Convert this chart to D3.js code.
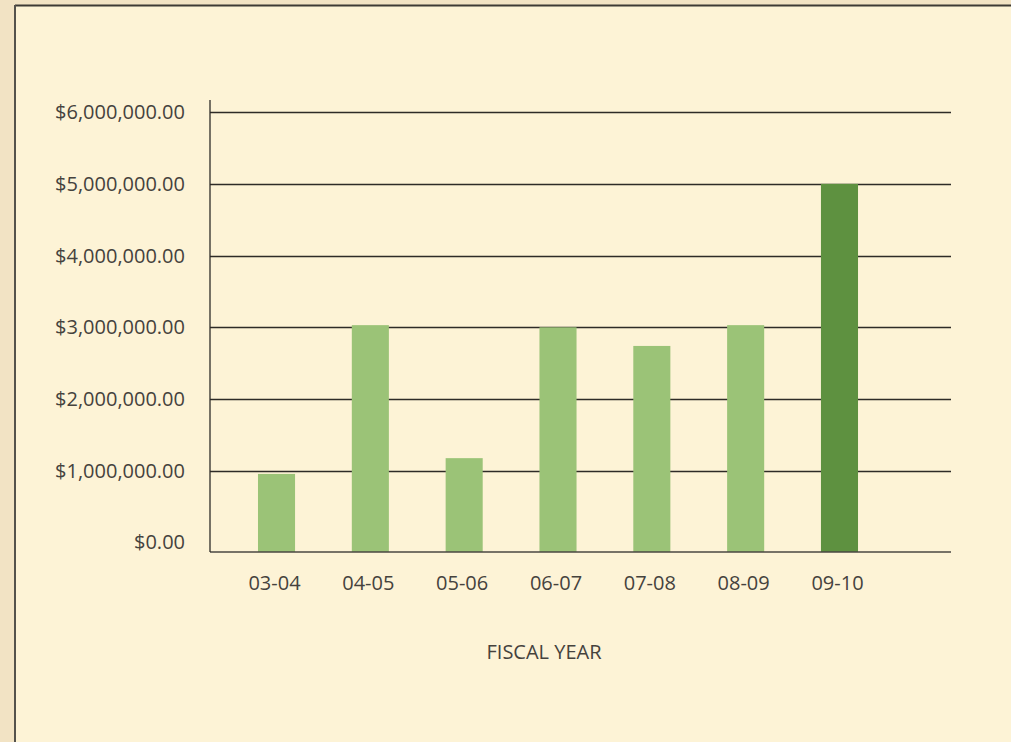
<!DOCTYPE html>
<html><head><meta charset="utf-8">
<script src="https://cdn.jsdelivr.net/npm/d3@7"></script>
<style>
html,body{margin:0;padding:0;background:#F2E3C4;}
svg{display:block;}
</style></head>
<body>
<svg id="c" width="1011" height="742"></svg>
<script>
const categories = ["03-04","04-05","05-06","06-07","07-08","08-09","09-10"];
const values = [955000, 3030000, 1175000, 3000000, 2740000, 3030000, 5000000];
const highlight = [false,false,false,false,false,false,true];
const yTicks = [0,1000000,2000000,3000000,4000000,5000000,6000000];
const xTitle = "FISCAL YEAR";

const svg = d3.select("#c");
const font = "'Open Sans', 'Liberation Sans', Arial, sans-serif";
svg.append("rect").attr("x",0).attr("y",0).attr("width",1011).attr("height",742).attr("fill","#F2E3C4");
svg.append("rect").attr("x",15).attr("y",6).attr("width",996).attr("height",736).attr("fill","#FDF3D6");
svg.append("line").attr("x1",15).attr("x2",1011).attr("y1",5.5).attr("y2",5.5).attr("stroke","#3d3a35").attr("stroke-width",2);
svg.append("line").attr("x1",15).attr("x2",15).attr("y1",5).attr("y2",742).attr("stroke","#55524c").attr("stroke-width",2);

const y = d3.scaleLinear().domain([0,6000000]).range([542.4,112.2]);
const x = d3.scaleBand().domain(categories).range([229.6,886.4]).paddingInner(0.605).paddingOuter(0.3025);
const plotL = 210, plotR = 951, baseY = 552;

// gridlines
svg.append("g").selectAll("line").data(yTicks.filter(d=>d>0)).join("line")
  .attr("x1",plotL).attr("x2",plotR)
  .attr("y1",d=>Math.round(y(d))+0.5).attr("y2",d=>Math.round(y(d))+0.5)
  .attr("stroke","#2e2b27").attr("stroke-width",1.3);

// bars
svg.append("g").selectAll("rect").data(categories).join("rect")
  .attr("x",(d)=>x(d))
  .attr("width",x.bandwidth())
  .attr("y",(d,i)=>y(values[i]))
  .attr("height",(d,i)=>baseY - y(values[i]))
  .attr("fill",(d,i)=>highlight[i] ? "#5E9140" : "#9BC377");

// axes lines
svg.append("line").attr("x1",plotL).attr("x2",plotR).attr("y1",baseY).attr("y2",baseY).attr("stroke","#4a4742").attr("stroke-width",1.5);
svg.append("line").attr("x1",plotL).attr("x2",plotL).attr("y1",100).attr("y2",baseY).attr("stroke","#2e2b27").attr("stroke-width",1.3);

// y labels
const fmt = d3.format("$,.2f");
svg.append("g").selectAll("text").data(yTicks).join("text")
  .attr("x",185).attr("y",d=>y(d)).attr("dy","0.35em")
  .attr("text-anchor","end").attr("font-family",font).attr("font-size",20)
  .attr("fill","#45423d").text(d=>fmt(d));

// x labels
svg.append("g").selectAll("text").data(categories).join("text")
  .attr("x",d=>x(d)+x.bandwidth()/2 - 2).attr("y",583).attr("dy","0.35em")
  .attr("text-anchor","middle").attr("font-family",font).attr("font-size",20)
  .attr("fill","#45423d").text(d=>d);

svg.append("text").attr("x",544).attr("y",652).attr("dy","0.35em")
  .attr("text-anchor","middle").attr("font-family",font).attr("font-size",20)
  .attr("fill","#45423d").text(xTitle);
</script>
</body></html>
